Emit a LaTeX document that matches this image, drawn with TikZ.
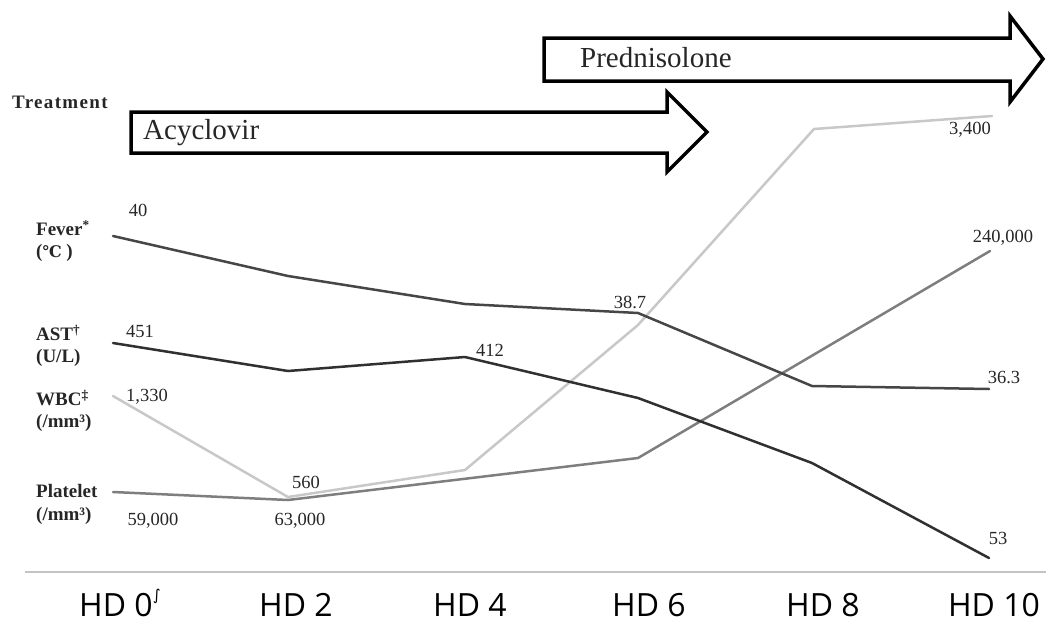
\documentclass[tikz,border=0pt]{standalone}
\usepackage{fontspec}
\setmainfont{Liberation Serif}
\newfontfamily\axisfont{Open Sans}
\newfontfamily\symfont{DejaVu Serif}
\newfontfamily\dvsfont{DejaVu Sans}
\definecolor{feverc}{HTML}{464646}
\definecolor{astc}{HTML}{303030}
\definecolor{wbcc}{HTML}{C8C8C8}
\definecolor{pltc}{HTML}{7E7E7E}
\definecolor{axisc}{HTML}{C4C4C4}
\begin{document}
\begin{tikzpicture}[x=1pt,y=-1pt,
  series/.style={line width=2.5pt, line join=round, line cap=round},
  feverline/.style={series, draw=feverc},
  astline/.style={series, draw=astc},
  wbcline/.style={series, draw=wbcc},
  pltline/.style={series, draw=pltc},
  val/.style={font=\fontsize{18.5}{19}\selectfont, inner sep=0pt, text=black!85},
  side/.style={font=\bfseries\fontsize{19}{20}\selectfont, anchor=west, inner sep=0pt, text=black!85},
  axl/.style={font=\axisfont\fontsize{32}{32}\selectfont, inner sep=0pt},
  drugarrow/.style={draw=black, line width=3.5pt, fill=white, line join=miter},
  drugtext/.style={font=\fontsize{29}{30}\selectfont, anchor=west, inner sep=0pt, text=black!85},
  axisline/.style={draw=axisc, line width=2pt}
  ]
\useasboundingbox (0,0) rectangle (1046,624);

% treatment arrows
\draw[drugarrow] (544,38) -- (1010,38) -- (1010,16) -- (1043,59) -- (1010,102) -- (1010,81) -- (544,81) -- cycle;
\node[drugtext] (pred) at (580,58) {Prednisolone};
\draw[drugarrow] (131,112) -- (667,112) -- (667,92) -- (707,132) -- (667,172) -- (667,153) -- (131,153) -- cycle;
\node[drugtext] (acy) at (143,133) {Acyclovir};

% axis
\draw[axisline] (25,572) -- (1046,572);

% data points
\coordinate (f0) at (113,236); \coordinate (f1) at (288,276); \coordinate (f2) at (465,304);
\coordinate (f3) at (638,313); \coordinate (f4) at (812,386); \coordinate (f5) at (989,389);
\coordinate (a0) at (113,343); \coordinate (a1) at (288,371); \coordinate (a2) at (465,357);
\coordinate (a3) at (638,398); \coordinate (a4) at (812,463); \coordinate (a5) at (989,558);
\coordinate (w0) at (113,396); \coordinate (w1) at (288,497); \coordinate (w2) at (465,470);
\coordinate (w3) at (638,325); \coordinate (w4) at (814,129); \coordinate (w5) at (992,116);
\coordinate (p0) at (113,492); \coordinate (p1) at (288,500); \coordinate (p3) at (638,458);
\coordinate (p5) at (990,251);

\draw[wbcline] (w0) -- (w1) -- (w2) -- (w3) -- (w4) -- (w5);
\draw[pltline] (p0) -- (p1) -- (p3) -- (p5);
\draw[astline] (a0) -- (a1) -- (a2) -- (a3) -- (a4) -- (a5);
\draw[feverline] (f0) -- (f1) -- (f2) -- (f3) -- (f4) -- (f5);

% value labels
\node[val] (v40) at (138,210) {40};
\node[val] (v451) at (140,331) {451};
\node[val] (v1330) at (147,397) {1,330};
\node[val] (v59000) at (153,521) {59,000};
\node[val] (v560) at (306,482) {560};
\node[val] (v63000) at (300,521) {63,000};
\node[val] (v412) at (490,350) {412};
\node[val] (v387) at (630,302) {38.7};
\node[val] (v3400) at (970,130) {3,400};
\node[val] (v240000) at (1003,238) {240,000};
\node[val] (v363) at (1004,377) {36.3};
\node[val] (v53) at (998,538) {53};

% side labels
\node[side, font=\bfseries\fontsize{19}{20}\selectfont\addfontfeatures{LetterSpace=7}] (treat) at (12,102) {Treatment};
\node[side] (fever) at (36,228) {Fever\textsuperscript{*}};
\node[side] (feveru) at (36,253) {({\symfont\fontsize{16}{16}\selectfont ℃} )};
\node[side] (ast) at (36,333) {AST\textsuperscript{†}};
\node[side] (astu) at (36,358) {(U/L)};
\node[side] (wbc) at (36,398) {WBC\textsuperscript{‡}};
\node[side] (wbcu) at (36,423) {(/mm³)};
\node[side] (plt) at (36,491) {Platelet};
\node[side] (pltu) at (36,516) {(/mm³)};

% axis labels
\node[axl] (hd0) at (116,605) {HD 0\rlap{\smash{\raisebox{0.5em}{\dvsfont\fontsize{15}{15}\selectfont ∫}}}};
\node[axl] (hd2) at (296,605) {HD 2};
\node[axl] (hd4) at (470,605) {HD 4};
\node[axl] (hd6) at (649,605) {HD 6};
\node[axl] (hd8) at (823,605) {HD 8};
\node[axl] (hd10) at (994,605) {HD 10};
\end{tikzpicture}
\end{document}
